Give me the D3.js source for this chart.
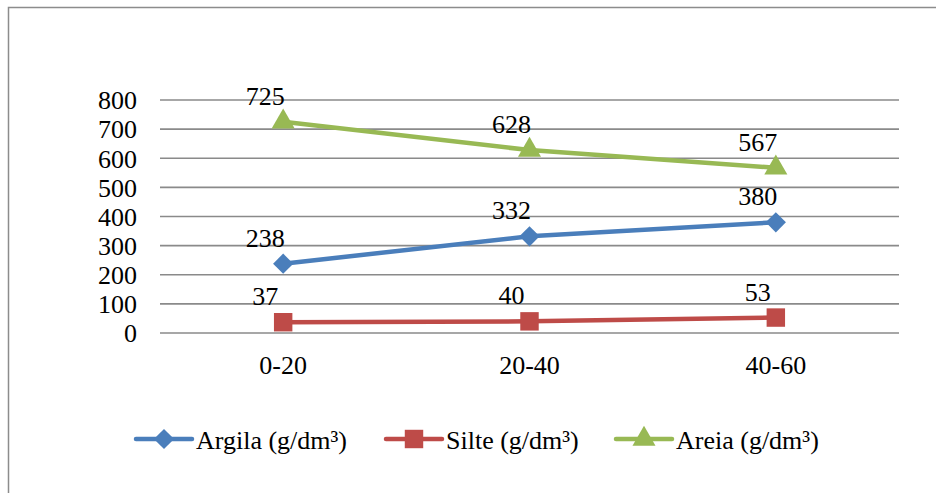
<!DOCTYPE html>
<html>
<head>
<meta charset="utf-8">
<script src="https://cdn.jsdelivr.net/npm/d3@7"></script>
</head>
<body style="margin:0; background:#fff">
<div id="wrapper"></div>
<script>
// Data
const categories = ["0-20", "20-40", "40-60"]
const argila = [238, 332, 380]
const silte = [37, 40, 53]
const areia = [725, 628, 567]
const yTicks = [0, 100, 200, 300, 400, 500, 600, 700, 800]
const seriesNames = ["Argila (g/dm³)", "Silte (g/dm³)", "Areia (g/dm³)"]

function drawChart() {
  const series = [
    { name: seriesNames[0], values: argila, color: "#4A7EBB", symbol: d3.symbolDiamond2, size: 260 },
    { name: seriesNames[1], values: silte, color: "#BE4B48", symbol: d3.symbolSquare, size: 340 },
    { name: seriesNames[2], values: areia, color: "#98B954", symbol: d3.symbolTriangle, size: 230 },
  ]

  const dimensions = {
    width: 936,
    height: 493,
    margin: { top: 100, right: 37, bottom: 160, left: 160 },
  }
  dimensions.boundedWidth = dimensions.width - dimensions.margin.left - dimensions.margin.right
  dimensions.boundedHeight = dimensions.height - dimensions.margin.top - dimensions.margin.bottom

  const wrapper = d3.select("#wrapper")
    .append("svg")
    .attr("width", dimensions.width)
    .attr("height", dimensions.height)
    .style("display", "block")

  // outer frame (right and bottom edges fall outside the view)
  wrapper.append("rect")
    .attr("x", 8.5)
    .attr("y", 7.5)
    .attr("width", 1000)
    .attr("height", 1000)
    .attr("fill", "none")
    .attr("stroke", "#8c8c8c")
    .attr("stroke-width", 1.5)

  const bounds = wrapper.append("g")
    .attr("transform", `translate(${dimensions.margin.left},${dimensions.margin.top})`)

  // Scales
  const xScale = d3.scalePoint()
    .domain(categories)
    .range([0, dimensions.boundedWidth])
    .padding(0.5)

  const yScale = d3.scaleLinear()
    .domain([0, 800])
    .range([dimensions.boundedHeight, 0])

  // Gridlines
  bounds.append("g")
    .selectAll("line")
    .data(yTicks)
    .join("line")
    .attr("x1", 0)
    .attr("x2", dimensions.boundedWidth)
    .attr("y1", d => yScale(d))
    .attr("y2", d => yScale(d))
    .attr("stroke", "#8a8a8a")
    .attr("stroke-width", 1.6)

  // Y axis labels
  bounds.append("g")
    .selectAll("text")
    .data(yTicks)
    .join("text")
    .attr("x", -23)
    .attr("y", d => yScale(d))
    .attr("dy", "0.36em")
    .attr("text-anchor", "end")
    .attr("font-family", "Times New Roman")
    .attr("font-size", 26)
    .text(d => d)

  // X axis labels
  bounds.append("g")
    .selectAll("text")
    .data(categories)
    .join("text")
    .attr("x", d => xScale(d))
    .attr("y", dimensions.boundedHeight + 41)
    .attr("text-anchor", "middle")
    .attr("font-family", "Times New Roman")
    .attr("font-size", 26)
    .text(d => d)

  // Lines
  const lineGenerator = d3.line()
    .x((d, i) => xScale(categories[i]))
    .y(d => yScale(d))

  const groups = bounds.selectAll(".series")
    .data(series)
    .join("g")
    .attr("class", "series")

  groups.append("path")
    .attr("d", d => lineGenerator(d.values))
    .attr("fill", "none")
    .attr("stroke", d => d.color)
    .attr("stroke-width", 4.5)
    .attr("stroke-linejoin", "round")

  groups.selectAll("path.marker")
    .data(d => d.values.map((v, i) => ({ v, i, s: d })))
    .join("path")
    .attr("class", "marker")
    .attr("transform", d => `translate(${xScale(categories[d.i])},${yScale(d.v)})`)
    .attr("d", d => d3.symbol().type(d.s.symbol).size(d.s.size)())
    .attr("fill", d => d.s.color)

  // Data labels
  groups.selectAll("text.label")
    .data(d => d.values.map((v, i) => ({ v, i })))
    .join("text")
    .attr("class", "label")
    .attr("x", d => xScale(categories[d.i]) - 18)
    .attr("y", d => yScale(d.v) - 17)
    .attr("text-anchor", "middle")
    .attr("font-family", "Times New Roman")
    .attr("font-size", 26)
    .attr("fill", "#000")
    .text(d => d.v)

  // Legend
  const legendX = [136, 386, 616]
  const legend = wrapper.append("g")
    .attr("transform", "translate(0,439)")

  const items = legend.selectAll("g")
    .data(series)
    .join("g")
    .attr("transform", (d, i) => `translate(${legendX[i]},0)`)

  items.append("line")
    .attr("x1", 0)
    .attr("x2", 56)
    .attr("stroke", d => d.color)
    .attr("stroke-width", 4.5)
    .attr("stroke-linecap", "round")

  items.append("path")
    .attr("transform", "translate(28,0)")
    .attr("d", d => d3.symbol().type(d.symbol).size(d.size)())
    .attr("fill", d => d.color)

  items.append("text")
    .attr("x", 60)
    .attr("y", 10)
    .attr("font-family", "Times New Roman")
    .attr("font-size", 26)
    .attr("fill", "#000")
    .text(d => d.name)
}
drawChart()
</script>
</body>
</html>
